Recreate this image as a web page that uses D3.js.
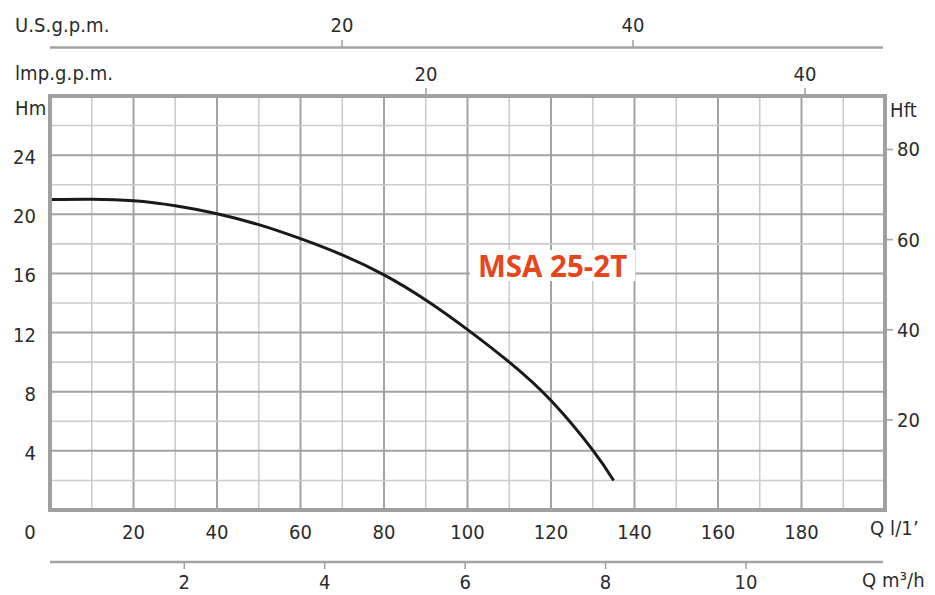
<!DOCTYPE html>
<html><head><meta charset="utf-8">
<script src="https://cdn.jsdelivr.net/npm/d3@7"></script>
<style>
body{margin:0;background:#fff}
svg{display:block}
text{font-family:"Liberation Sans Narrow","DejaVu Sans Condensed",sans-serif;fill:#2b2b2b;font-size:20px;letter-spacing:0.1px}
</style>
</head><body>
<svg id="c" width="935" height="595"></svg>
<script>
// ---- data ----
const flowLmin = [0, 10, 20, 30, 40, 50, 60, 70, 80, 90, 100, 110, 120, 130, 135];
const headM    = [21.0, 21.02, 20.92, 20.58, 20.04, 19.3, 18.35, 17.25, 15.9, 14.2, 12.2, 10.0, 7.4, 4.05, 2.0];
const lminTicks = [20, 40, 60, 80, 100, 120, 140, 160, 180];
const headTicks = [4, 8, 12, 16, 20, 24];
const ftTicks   = [20, 40, 60, 80];
const usTicks   = [20, 40];
const impTicks  = [20, 40];
const m3hTicks  = [2, 4, 6, 8, 10];
const seriesName = "MSA 25-2T";

const svg = d3.select("#c");
const L = 50, R = 885, T = 96, B = 510;
const x = d3.scaleLinear([0, 200], [L, R]);
const y = d3.scaleLinear([0, 28], [B, T]);
const yFt = d3.scaleLinear([0, 28 / 0.3048], [B, T]);
const xUS = d3.scaleLinear([20, 40], [342, 633]);
const xImp = d3.scaleLinear([20, 40], [426, 805]);
const xM3 = d3.scaleLinear([2, 10], [184.3, 746]);

const dark = "#a3a3a3", light = "#cbcbcb";

// grid
const g = svg.append("g");
d3.range(10, 200, 10).forEach(v => {
  g.append("line").attr("x1", x(v)).attr("x2", x(v)).attr("y1", T).attr("y2", B)
   .attr("stroke", v % 20 === 0 ? dark : light).attr("stroke-width", v % 20 === 0 ? 2 : 1.6);
});
d3.range(2, 28, 2).forEach(v => {
  g.append("line").attr("x1", L).attr("x2", R).attr("y1", y(v)).attr("y2", y(v))
   .attr("stroke", v % 4 === 0 ? dark : light).attr("stroke-width", v % 4 === 0 ? 2 : 1.6);
});

// label with white box
const lab = svg.append("g");
const lbRect = lab.append("rect").attr("fill", "#fff");
const lbText = lab.append("text").attr("x", 478).attr("y", 277).text(seriesName)
  .style("font-family", "'Open Sans','Noto Sans',sans-serif").style("font-weight", 700)
  .style("font-size", "29.5px").style("letter-spacing", "0px").style("fill", "#e5461c");
const bb = lbText.node().getBBox();
lbRect.attr("x", bb.x - 8).attr("width", bb.width + 16).attr("y", 250).attr("height", 31);

// curve
const line = d3.line().x((d, i) => x(flowLmin[i])).y(d => y(d)).curve(d3.curveNatural);
svg.append("path").attr("d", line(headM)).attr("fill", "none")
  .attr("stroke", "#1a1a1a").attr("stroke-width", 3);

// frame
svg.append("rect").attr("x", L).attr("y", T).attr("width", R - L).attr("height", B - T)
  .attr("fill", "none").attr("stroke", "#a0a0a0").attr("stroke-width", 4);

// left axis labels
svg.append("text").attr("x", 15).attr("y", 108).attr("dy", "0.35em").text("Hm");
headTicks.forEach(v => svg.append("text").attr("x", 36).attr("y", y(v) + 2).attr("dy", "0.35em")
  .attr("text-anchor", "end").text(v));

// right axis
svg.append("text").attr("x", 890).attr("y", 110).attr("dy", "0.35em").text("Hft");
ftTicks.forEach(v => {
  svg.append("line").attr("x1", R + 1).attr("x2", R + 8).attr("y1", yFt(v)).attr("y2", yFt(v))
    .attr("stroke", dark).attr("stroke-width", 1.6);
  svg.append("text").attr("x", 897).attr("y", yFt(v)).attr("dy", "0.35em").text(v);
});

// bottom l/min
svg.append("text").attr("x", 30).attr("y", 532).attr("dy", "0.35em").attr("text-anchor", "middle").text("0");
lminTicks.forEach(v => svg.append("text").attr("x", x(v)).attr("y", 532).attr("dy", "0.35em")
  .attr("text-anchor", "middle").text(v));
svg.append("text").attr("x", 870).attr("y", 528).attr("dy", "0.35em").text("Q l/1\u2019");

// m3/h axis
svg.append("line").attr("x1", L).attr("x2", 883).attr("y1", 562).attr("y2", 562)
  .attr("stroke", dark).attr("stroke-width", 2.5);
m3hTicks.forEach(v => {
  svg.append("line").attr("x1", xM3(v)).attr("x2", xM3(v)).attr("y1", 562).attr("y2", 569)
    .attr("stroke", dark).attr("stroke-width", 1.6);
  svg.append("text").attr("x", xM3(v)).attr("y", 582).attr("dy", "0.35em")
    .attr("text-anchor", "middle").text(v);
});
svg.append("text").attr("x", 862).attr("y", 580).attr("dy", "0.35em").text("Q m\u00b3/h");

// US gpm axis
svg.append("text").attr("x", 15).attr("y", 25).attr("dy", "0.35em").text("U.S.g.p.m.");
svg.append("line").attr("x1", L).attr("x2", 883).attr("y1", 47.5).attr("y2", 47.5)
  .attr("stroke", dark).attr("stroke-width", 2.5);
usTicks.forEach(v => {
  svg.append("line").attr("x1", xUS(v)).attr("x2", xUS(v)).attr("y1", 40).attr("y2", 47.5)
    .attr("stroke", dark).attr("stroke-width", 1.6);
  svg.append("text").attr("x", xUS(v)).attr("y", 25).attr("dy", "0.35em")
    .attr("text-anchor", "middle").text(v);
});

// Imp gpm axis
svg.append("text").attr("x", 15).attr("y", 73).attr("dy", "0.35em").text("lmp.g.p.m.");
impTicks.forEach(v => {
  svg.append("line").attr("x1", xImp(v)).attr("x2", xImp(v)).attr("y1", 88).attr("y2", T)
    .attr("stroke", dark).attr("stroke-width", 1.6);
  svg.append("text").attr("x", xImp(v)).attr("y", 74).attr("dy", "0.35em")
    .attr("text-anchor", "middle").text(v);
});
</script>
</body></html>
